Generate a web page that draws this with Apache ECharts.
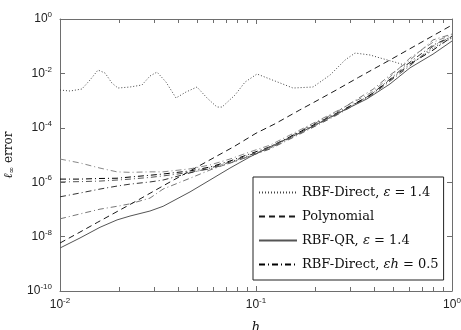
<!DOCTYPE html>
<html>
<head>
<meta charset="utf-8">
<script src="https://cdn.jsdelivr.net/npm/echarts@6/dist/echarts.min.js"></script>
<style>
  html, body { margin: 0; padding: 0; background: #fff; }
  #chart { width: 461px; height: 330px; }
</style>
</head>
<body>
<div id="chart"></div>
<script>
// Max-norm error versus node spacing h for the four methods.

// RBF-Direct with fixed shape parameter (eps = 1.4)
const hDirectFixed = [0.0100, 0.01125, 0.01294, 0.01422, 0.01563, 0.01698, 0.01841, 0.01977, 0.02276, 0.02620,
  0.02877, 0.03126, 0.03474, 0.03907, 0.04394, 0.05000, 0.05623, 0.06324, 0.06709, 0.07816,
  0.08790, 0.1012, 0.1178, 0.1545, 0.1954, 0.2387, 0.2846, 0.3200, 0.3817, 0.4293,
  0.5119, 0.5758, 0.6866, 0.8000, 1.0];
const errDirectFixed = [2.45e-3, 2.25e-3, 2.67e-3, 5.7e-3, 1.33e-2, 1.03e-2, 4.4e-3, 2.9e-3, 3.16e-3, 3.75e-3,
  8.0e-3, 1.12e-2, 4.8e-3, 1.25e-3, 2.07e-3, 3.16e-3, 1.25e-3, 5.8e-4, 5.8e-4, 1.6e-3,
  4.8e-3, 9.5e-3, 6.2e-3, 2.9e-3, 3.16e-3, 8.7e-3, 3.1e-2, 5.6e-2, 4.75e-2, 3.7e-2,
  2.6e-2, 2.0e-2, 3.7e-2, 8.6e-2, 0.2];

// Polynomial interpolation
const hPoly = [0.01, 0.0125, 0.0156, 0.02, 0.025, 0.0333, 0.04, 0.05, 0.0625, 0.0769,
  0.1, 0.125, 0.167, 0.2, 0.25, 0.333, 0.5, 1.0];
const errPoly = [5.8e-9, 1.4e-8, 3.4e-8, 9.1e-8, 2.2e-7, 7.1e-7, 1.48e-6, 3.6e-6, 8.8e-6, 2.0e-5,
  6.3e-5, 1.4e-4, 4.5e-4, 9.1e-4, 2.2e-3, 7.1e-3, 3.6e-2, 0.6];

// Common step sizes for RBF-QR and the RBF-Direct runs with eps*h fixed
const hGrid = [0.0100, 0.01265, 0.0160, 0.01954, 0.02276, 0.02877, 0.03357, 0.04607, 0.05821, 0.07362,
  0.0931, 0.1178, 0.1675, 0.2529, 0.3681, 0.3953, 0.4830, 0.6106, 0.8000, 1.0];

// RBF-QR (eps = 1.4)
const errQR = [3.8e-9, 8.9e-9, 2.2e-8, 4.1e-8, 5.7e-8, 8.7e-8, 1.3e-7, 4.4e-7, 1.2e-6, 3.3e-6,
  8.5e-6, 2.0e-5, 6.5e-5, 3.0e-4, 1.15e-3, 1.6e-3, 4.1e-3, 1.6e-2, 5.1e-2, 0.155];

// RBF-Direct with eps*h fixed (the labelled run is eps*h = 0.5)
const errEpsH05 = [1.3e-6, 1.3e-6, 1.37e-6, 1.4e-6, 1.55e-6, 1.8e-6, 2.0e-6, 2.6e-6, 3.6e-6, 6.0e-6,
  1.1e-5, 2.0e-5, 7.1e-5, 3.2e-4, 1.35e-3, 1.9e-3, 5.7e-3, 2.2e-2, 7.2e-2, 0.22];
const errEpsHA = [7.1e-6, 5.1e-6, 3.3e-6, 2.4e-6, 2.3e-6, 2.4e-6, 2.4e-6, 3.1e-6, 4.3e-6, 7.1e-6,
  1.3e-5, 2.3e-5, 8.3e-5, 3.8e-4, 1.6e-3, 2.2e-3, 7.4e-3, 3.7e-2, 0.14, 0.26];
const errEpsHB = [1.02e-6, 1.05e-6, 1.1e-6, 1.2e-6, 1.3e-6, 1.5e-6, 1.7e-6, 2.3e-6, 3.1e-6, 5.0e-6,
  9.1e-6, 1.66e-5, 5.9e-5, 2.7e-4, 1.26e-3, 1.7e-3, 5.2e-3, 1.9e-2, 0.10, 0.23];
const errEpsHC = [2.9e-7, 4.0e-7, 5.6e-7, 7.2e-7, 8.5e-7, 1.02e-6, 1.2e-6, 2.2e-6, 3.3e-6, 5.5e-6,
  1.0e-5, 1.8e-5, 6.5e-5, 2.9e-4, 1.35e-3, 1.9e-3, 6.2e-3, 2.6e-2, 0.11, 0.23];
const errEpsHD = [4.5e-8, 6.8e-8, 1.02e-7, 1.3e-7, 1.6e-7, 2.6e-7, 5.6e-7, 1.4e-6, 2.8e-6, 5.1e-6,
  9.1e-6, 1.8e-5, 7.6e-5, 3.5e-4, 1.9e-3, 2.6e-3, 8.7e-3, 3.1e-2, 0.17, 0.28];

// Axis tick values
const xMinorTicks = [0.02, 0.03, 0.04, 0.05, 0.06, 0.07, 0.08, 0.09, 0.2, 0.3, 0.4, 0.5, 0.6, 0.7, 0.8, 0.9];

const legendNames = ['RBF-Direct, ε = 1.4', 'Polynomial', 'RBF-QR, ε = 1.4', 'RBF-Direct, εh = 0.5'];

const zip = (xs, ys) => xs.map((x, i) => [x, ys[i]]);

const FRAME = '#6e6e6e';
const TICKFONT = 'Liberation Sans, Arial, sans-serif';
const SERIF = 'DejaVu Serif, Liberation Serif, serif';

function powLabel(v) {
  const e = Math.round(Math.log10(v));
  return '{b|10}{e|' + e + '}';
}
const tickRich = {
  b: { fontSize: 12, fontFamily: TICKFONT, color: '#222' },
  e: { fontSize: 8, fontFamily: TICKFONT, color: '#222', padding: [0, 0, 8, 0] }
};

function line(name, data, color, dash, z) {
  return {
    name: name, type: 'line', data: data, symbol: 'none', smooth: false,
    lineStyle: { color: color, width: 1, type: dash },
    itemStyle: { color: color },
    z: z || 2, animation: false
  };
}

const chart = echarts.init(document.getElementById('chart'), null, { renderer: 'canvas' });

chart.setOption({
  animation: false,
  backgroundColor: '#fff',
  grid: { left: 60, top: 19, width: 392, height: 272, show: false, containLabel: false, outerBoundsMode: 'none' },
  xAxis: [{
    type: 'log', logBase: 10, min: 0.01, max: 1,
    axisLine: { show: true, lineStyle: { color: FRAME, width: 1 } },
    axisTick: { show: true, inside: true, length: 5, lineStyle: { color: FRAME } },
    splitLine: { show: false },
    axisLabel: { formatter: powLabel, rich: tickRich, margin: 6 },
    name: 'h', nameLocation: 'middle', nameGap: 30,
    nameTextStyle: { fontFamily: SERIF, fontStyle: 'italic', fontSize: 13, color: '#111' }
  }, {
    type: 'log', logBase: 10, min: 0.01, max: 1, position: 'top',
    axisLine: { show: true, lineStyle: { color: FRAME, width: 1 } },
    axisTick: { show: true, inside: true, length: 5, lineStyle: { color: FRAME } },
    splitLine: { show: false }, axisLabel: { show: false }
  }],
  yAxis: [{
    type: 'log', logBase: 10, min: 1e-10, max: 1, interval: 2,
    axisLine: { show: true, lineStyle: { color: FRAME, width: 1 } },
    axisTick: { show: true, inside: true, length: 5, lineStyle: { color: FRAME } },
    splitLine: { show: false },
    axisLabel: { formatter: powLabel, rich: tickRich, margin: 8 },
    name: '{l|ℓ}{s|∞}{t| error}', nameLocation: 'middle', nameGap: 39, nameRotate: 90,
    nameTextStyle: {
      rich: {
        l: { fontFamily: SERIF, fontStyle: 'italic', fontSize: 12, color: '#111' },
        s: { fontFamily: SERIF, fontSize: 8, color: '#111', padding: [6, 0, 0, 0] },
        t: { fontFamily: SERIF, fontSize: 12, color: '#111' }
      }
    }
  }, {
    type: 'log', logBase: 10, min: 1e-10, max: 1, interval: 2, position: 'right',
    axisLine: { show: true, lineStyle: { color: FRAME, width: 1 } },
    axisTick: { show: true, inside: true, length: 5, lineStyle: { color: FRAME } },
    splitLine: { show: false }, axisLabel: { show: false }
  }],
  legend: {
    data: legendNames,
    orient: 'vertical', left: 253, top: 177,
    backgroundColor: '#fff', borderColor: '#222', borderWidth: 1, borderRadius: 0,
    padding: [9, 5, 9, 5], itemGap: 11, itemWidth: 38, itemHeight: 14,
    itemStyle: { opacity: 0 },
    textStyle: {
      fontFamily: SERIF, fontSize: 13, color: '#111',
      rich: {
        t: { fontFamily: SERIF, fontSize: 13, color: '#111' },
        i: { fontFamily: SERIF, fontStyle: 'italic', fontSize: 13, color: '#111' }
      }
    },
    formatter: function (name) {
      if (name === legendNames[0] || name === legendNames[2]) {
        const head = name.split('ε')[0];
        return '{t|' + head + '}{i|ε}{t| = 1.4}';
      }
      if (name === legendNames[3]) return '{t|RBF-Direct, }{i|εh}{t| = 0.5}';
      return '{t|' + name + '}';
    },
    selectedMode: false
  },
  series: [
    line('RBF-Direct εh run A', zip(hGrid, errEpsHA), '#888888', [6, 3, 1, 3], 2),
    line('RBF-Direct εh run B', zip(hGrid, errEpsHB), '#555555', [6, 3, 1, 3], 2),
    line('RBF-Direct εh run C', zip(hGrid, errEpsHC), '#333333', [6, 3, 1, 3], 2),
    line('RBF-Direct εh run D', zip(hGrid, errEpsHD), '#777777', [6, 3, 1, 3], 2),
    line(legendNames[3], zip(hGrid, errEpsH05), '#000000', [6, 3, 1, 3], 3),
    line(legendNames[0], zip(hDirectFixed, errDirectFixed), '#444444', [1, 2], 3),
    line(legendNames[1], zip(hPoly, errPoly), '#1a1a1a', [6, 4], 3),
    line(legendNames[2], zip(hGrid, errQR), '#555555', 'solid', 3)
  ]
});

// Minor ticks on the log x axis (2..9 within each decade), top and bottom.
function drawMinorTicks() {
  const yBottom = chart.convertToPixel({ yAxisIndex: 0 }, 1e-10);
  const yTop = chart.convertToPixel({ yAxisIndex: 0 }, 1);
  const els = [];
  xMinorTicks.forEach(function (v) {
    const x = Math.round(chart.convertToPixel({ xAxisIndex: 0 }, v)) + 0.5;
    els.push({ type: 'line', shape: { x1: x, y1: yBottom, x2: x, y2: yBottom - 4 }, style: { stroke: FRAME, lineWidth: 1 }, silent: true });
    els.push({ type: 'line', shape: { x1: x, y1: yTop, x2: x, y2: yTop + 4 }, style: { stroke: FRAME, lineWidth: 1 }, silent: true });
  });
  chart.setOption({ graphic: { elements: els } });
}
drawMinorTicks();
</script>
</body>
</html>
